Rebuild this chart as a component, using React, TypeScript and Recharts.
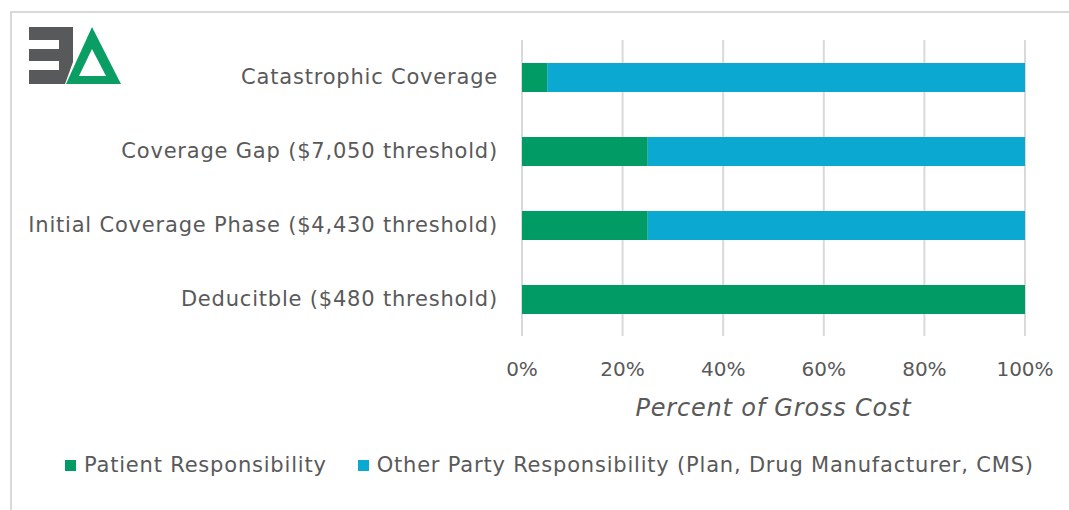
import React from "react";
import { BarChart, Bar, XAxis, YAxis, CartesianGrid, Legend } from "recharts";

const categories = [
  "Catastrophic Coverage",
  "Coverage Gap ($7,050 threshold)",
  "Initial Coverage Phase ($4,430 threshold)",
  "Deducitble ($480 threshold)",
];
const patientShare = [5, 25, 25, 100];
const otherShare = [95, 75, 75, 0];
const xTicks = [0, 20, 40, 60, 80, 100];

const seriesNames = {
  patient: "Patient Responsibility",
  other: "Other Party Responsibility (Plan, Drug Manufacturer, CMS)",
};
const legendOrder = [seriesNames.patient, seriesNames.other];

const GREEN = "#019B65";
const BLUE = "#0BA9D1";
const TEXT = "#595959";
const FONT = "'DejaVu Sans', sans-serif";

const data = categories.map((name, i) => ({
  name,
  patient: patientShare[i],
  other: otherShare[i],
}));

function Logo() {
  return (
    <svg width={100} height={64} style={{ position: "absolute", left: 26, top: 24 }}>
      <g transform="translate(-26,-24)">
        {/* reversed E */}
        <polygon
          points="29,27 73,27 73,62 65,84 29,84 29,70 59,70 59,61 29,61 29,49 59,49 59,40 29,40"
          fill="#58595B"
        />
        {/* delta */}
        <polygon points="92,27 121,84 66,84" fill="#0A9E64" />
        <polygon points="92,49 106,76 79,76" fill="#fff" />
      </g>
    </svg>
  );
}

function LegendContent({ payload }: any) {
  const items = [...(payload || [])].sort(
    (a: any, b: any) => legendOrder.indexOf(a.value) - legendOrder.indexOf(b.value)
  );
  return (
    <div style={{ display: "flex", justifyContent: "flex-start", paddingLeft: 65, fontFamily: FONT }}>
      {items.map((p: any, i: number) => (
        <div key={i} style={{ display: "flex", alignItems: "center", marginRight: 31 }}>
          <span style={{ width: 11, height: 11, background: p.color, display: "inline-block", marginRight: 8 }} />
          <span style={{ fontSize: 21, letterSpacing: 0.8, color: TEXT }}>{p.value}</span>
        </div>
      ))}
    </div>
  );
}

export default function App() {
  return (
    <div style={{ position: "absolute", left: 0, top: 0, width: 1069, height: 510, background: "#fff", overflow: "hidden" }}>
      <div
        style={{
          position: "absolute",
          left: 10,
          top: 11,
          width: 1100,
          height: 600,
          borderLeft: "2px solid #d9d9d9",
          borderTop: "2px solid #d9d9d9",
        }}
      />
      <Logo />
      <div style={{ position: "absolute", left: 0, top: 0 }}>
        <BarChart
          width={1069}
          height={510}
          data={data}
          layout="vertical"
          margin={{ top: 40, right: 44, bottom: 94, left: 0 }}
        >
          <CartesianGrid horizontal={false} stroke="#d9d9d9" strokeWidth={2} />
          <XAxis
            type="number"
            domain={[0, 100]}
            ticks={xTicks}
            tickFormatter={(v) => `${v}%`}
            axisLine={false}
            tickLine={false}
            tickSize={0}
            tickMargin={26}
            height={80}
            tick={{ fill: TEXT, fontSize: 20, fontFamily: FONT }}
            label={{
              value: "Percent of Gross Cost",
              position: "insideBottom",
              offset: 0,
              fill: TEXT,
              fontSize: 24,
              fontStyle: "italic",
              letterSpacing: 0.8,
              fontFamily: FONT,
            }}
          />
          <YAxis
            type="category"
            dataKey="name"
            width={522}
            axisLine={false}
            tickLine={false}
            tickSize={0}
            tickMargin={24}
            interval={0}
            tick={{ fill: TEXT, fontSize: 21, letterSpacing: 0.8, fontFamily: FONT }}
          />
          <Legend
            layout="horizontal"
            verticalAlign="middle"
            align="center"
            content={<LegendContent />}
            wrapperStyle={{ top: 453, left: 0, width: 1069 }}
          />
          <Bar dataKey="patient" name={seriesNames.patient} stackId="a" fill={GREEN} barSize={29} isAnimationActive={false} legendType="square" />
          <Bar dataKey="other" name={seriesNames.other} stackId="a" fill={BLUE} barSize={29} isAnimationActive={false} legendType="square" />
        </BarChart>
      </div>
    </div>
  );
}
